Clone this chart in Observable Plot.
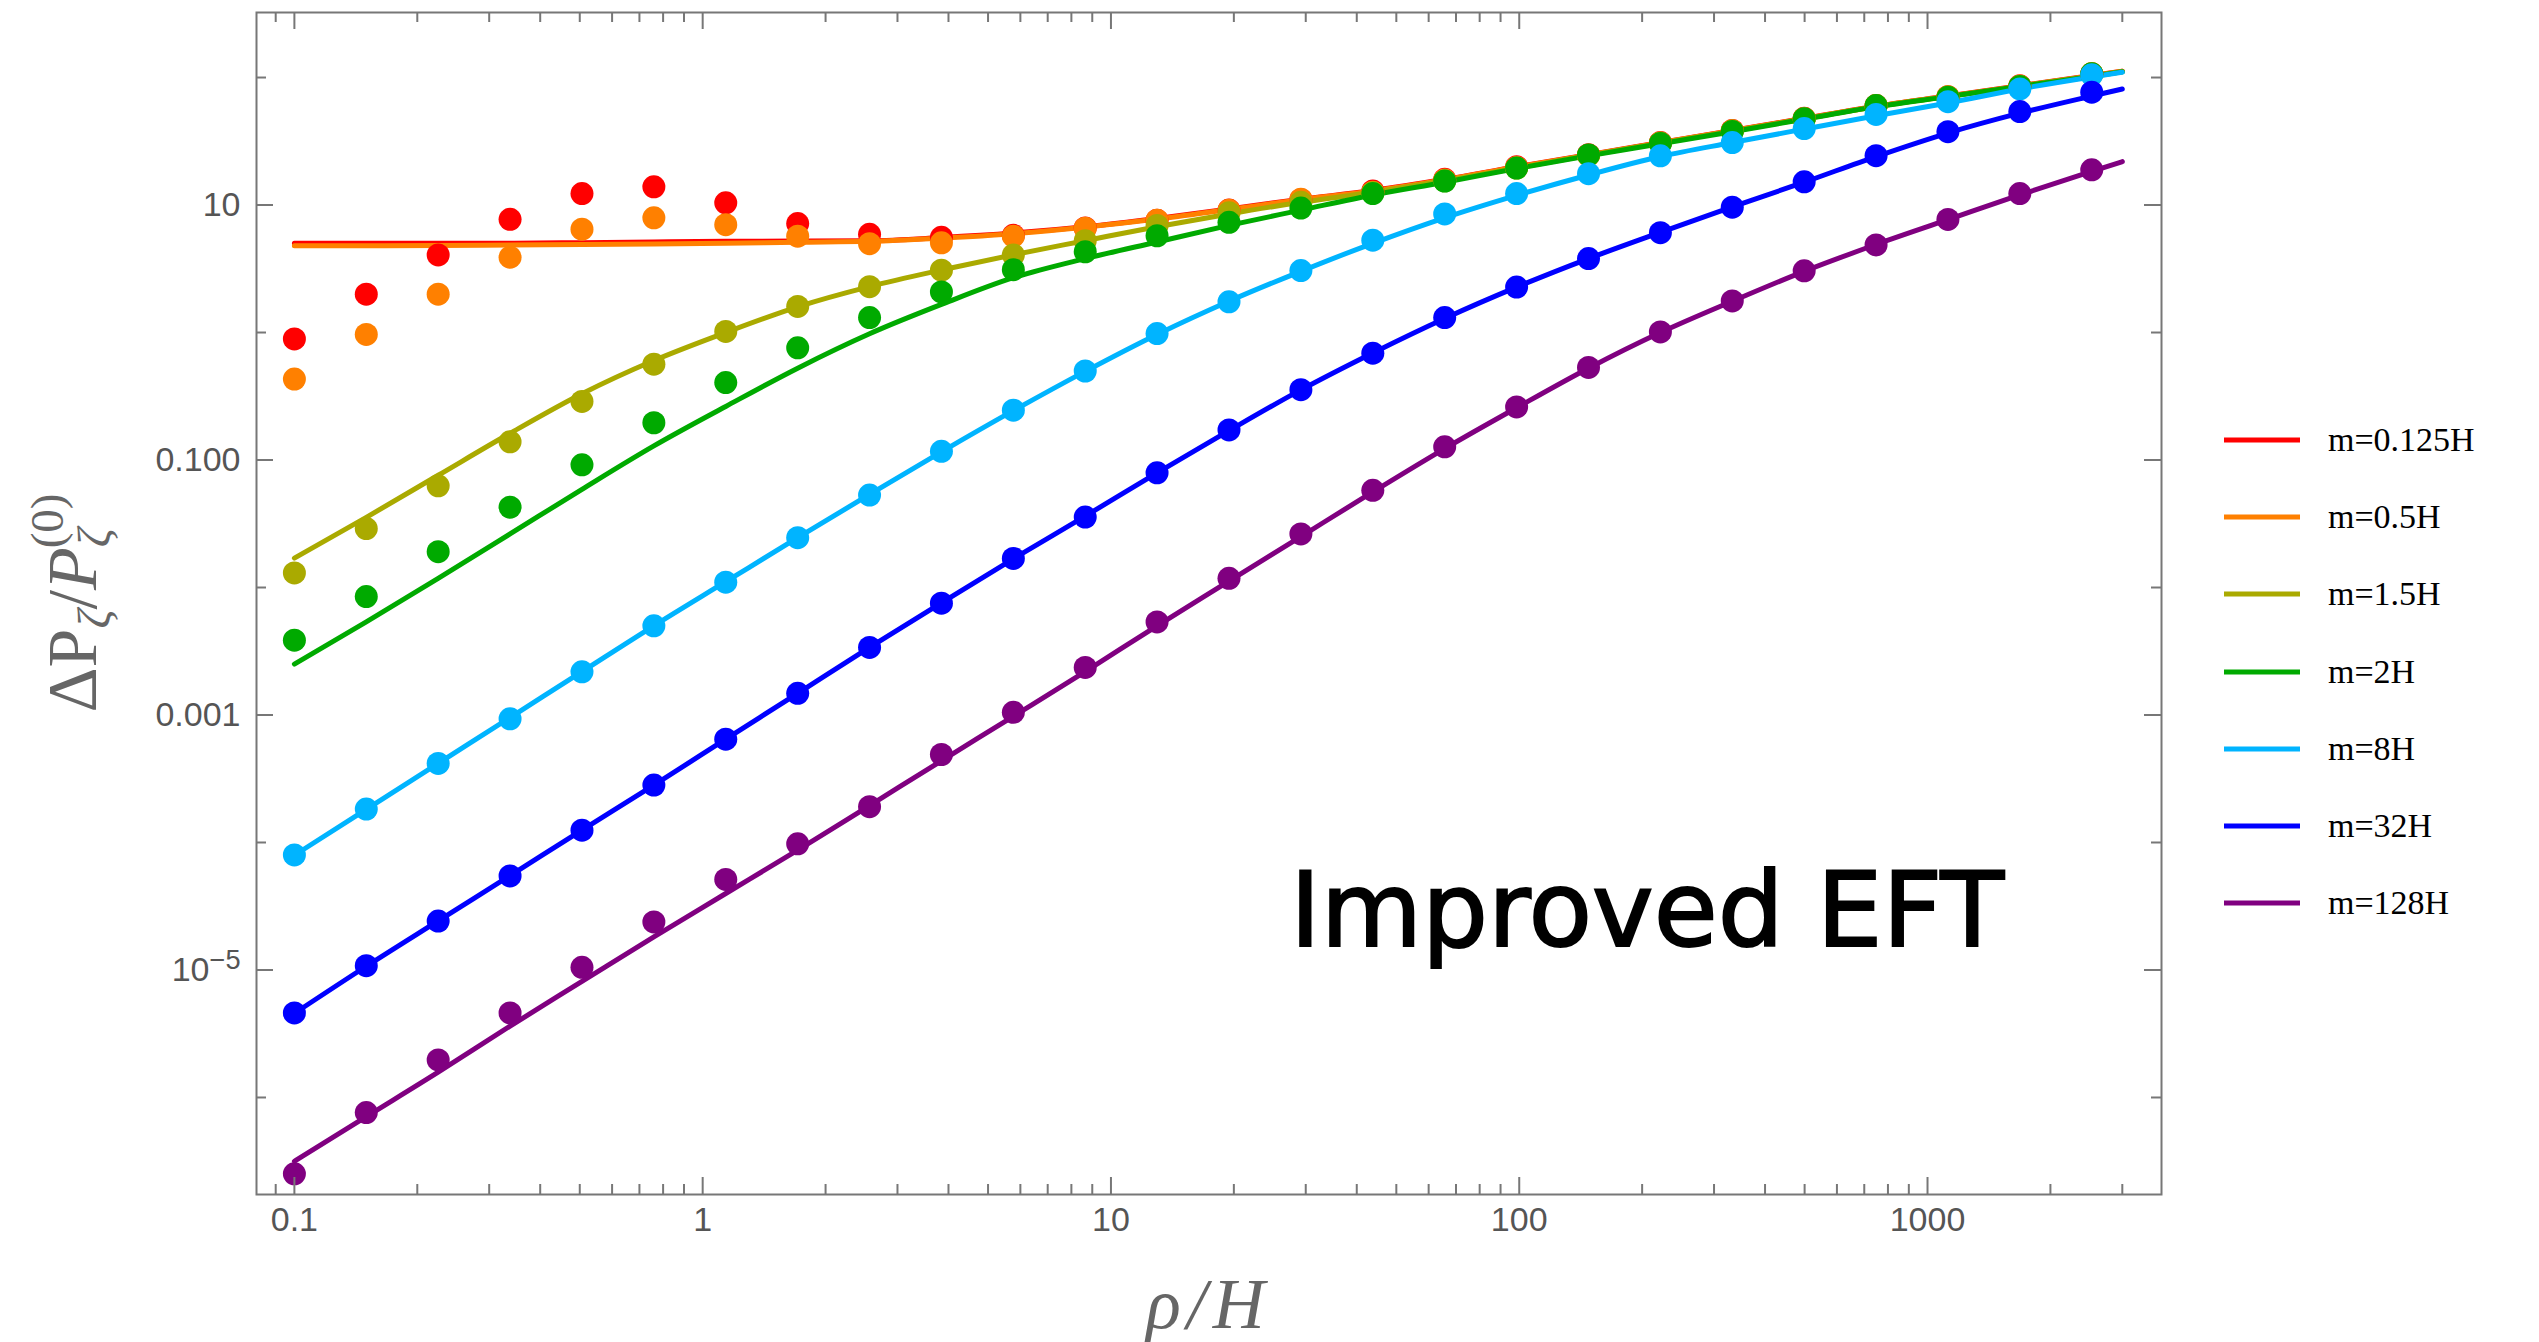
<!DOCTYPE html>
<html><head><meta charset="utf-8">
<script src="https://cdn.jsdelivr.net/npm/d3@7"></script>
<script src="https://cdn.jsdelivr.net/npm/@observablehq/plot@0.6"></script>
<style>
html,body{margin:0;padding:0;background:#fff;}
#wrap{position:relative;width:2539px;height:1342px;}
#legend{position:absolute;left:2224px;top:401px;font-family:"Liberation Serif","Times New Roman",serif;font-size:34px;color:#000;}
.row{display:flex;align-items:center;height:77.3px;}
.row svg{margin-right:28px;}
</style></head><body><div id="wrap"><div id="legend"></div></div>
<script>
// ---- data ----
const masses = ["m=0.125H","m=0.5H","m=1.5H","m=2H","m=8H","m=32H","m=128H"];
const colors = ["#ff0000","#ff8000","#aaaa00","#00aa00","#00b4ff","#0000ff","#800080"];

const rho = [0.1, 0.15, 0.225, 0.3375, 0.5063, 0.7594, 1.139, 1.709, 2.563, 3.844, 5.767, 8.650, 12.97, 19.46, 29.19, 43.79, 65.68, 98.53, 147.8, 221.7, 332.5, 498.8, 748.2, 1122, 1683, 2525];
const rhoLine = [0.1, 0.15, 0.225, 0.3375, 0.5063, 0.7594, 1.139, 1.709, 2.563, 3.844, 5.767, 8.650, 12.97, 19.46, 29.19, 43.79, 65.68, 98.53, 147.8, 221.7, 332.5, 498.8, 748.2, 1122, 1683, 2525, 3000];

// numerical points
const pts_0125 = [0.891, 2.00, 4.06, 7.73, 12.3, 13.9, 10.4, 7.16, 5.89, 5.58, 5.78, 6.61, 7.59, 9.12, 11.0, 12.9, 15.9, 20.0, 24.8, 30.9, 38.5, 47.9, 60.3, 70.8, 86.1, 107];
const pts_05   = [0.431, 0.966, 2.00, 3.90, 6.47, 7.93, 7.01, 5.69, 4.97, 5.05, 5.69, 6.58, 7.60, 9.08, 11.1, 12.6, 15.7, 19.7, 24.6, 30.7, 38.2, 47.6, 60.0, 70.8, 85.7, 107];
const pts_15   = [0.0130, 0.0290, 0.0628, 0.139, 0.288, 0.564, 1.02, 1.60, 2.29, 3.08, 4.06, 5.25, 6.92, 8.71, 10.5, 12.5, 15.5, 19.5, 24.6, 30.6, 38.0, 47.5, 60.3, 70.3, 85.1, 107];
const pts_2    = [0.00386, 0.00849, 0.0191, 0.0427, 0.0916, 0.196, 0.405, 0.759, 1.31, 2.08, 3.11, 4.30, 5.74, 7.31, 9.46, 12.3, 15.4, 19.5, 24.7, 30.4, 37.8, 47.4, 60.3, 70.0, 85.1, 107];
const pts_8    = [7.98e-5, 1.83e-4, 4.17e-4, 9.33e-4, 2.18e-3, 5.01e-3, 0.0110, 0.0246, 0.0531, 0.117, 0.246, 0.499, 0.982, 1.74, 3.06, 5.30, 8.51, 12.3, 17.6, 24.3, 30.9, 39.8, 51.3, 64.6, 81.3, 105];
const pts_32   = [4.60e-6, 1.08e-5, 2.42e-5, 5.47e-5, 1.25e-4, 2.82e-4, 6.46e-4, 1.48e-3, 3.39e-3, 7.53e-3, 0.0169, 0.0357, 0.0794, 0.172, 0.356, 0.689, 1.31, 2.27, 3.80, 6.07, 9.62, 15.2, 24.4, 37.6, 54.1, 76.7];
const pts_128  = [2.52e-7, 7.62e-7, 1.97e-6, 4.60e-6, 1.05e-5, 2.38e-5, 5.13e-5, 9.77e-5, 1.91e-4, 4.90e-4, 1.05e-3, 2.36e-3, 5.37e-3, 0.0118, 0.0263, 0.0579, 0.127, 0.261, 0.532, 1.01, 1.77, 3.05, 4.86, 7.71, 12.3, 18.9];

// EFT curves
const line_0125 = [5.01, 5.01, 5.01, 5.01, 5.07, 5.13, 5.19, 5.22, 5.25, 5.56, 6.03, 6.76, 7.85, 9.33, 11.1, 13.0, 15.9, 20.0, 24.8, 30.9, 38.5, 47.9, 59.6, 71.6, 86.1, 104, 112];
const line_05   = [4.79, 4.79, 4.82, 4.86, 4.90, 4.95, 5.01, 5.11, 5.19, 5.50, 5.96, 6.70, 7.76, 9.23, 11.0, 12.9, 15.8, 19.9, 24.7, 30.8, 38.3, 47.6, 59.3, 71.3, 85.7, 103, 112];
const line_15   = [0.0170, 0.0355, 0.0759, 0.162, 0.331, 0.603, 1.00, 1.59, 2.29, 3.09, 4.07, 5.25, 6.76, 8.51, 10.5, 12.6, 15.5, 19.5, 24.6, 30.6, 38.0, 47.5, 59.2, 71.1, 85.5, 103, 111];
const line_2    = [0.00251, 0.00537, 0.0118, 0.0263, 0.0589, 0.129, 0.263, 0.525, 0.977, 1.66, 2.69, 3.80, 5.13, 6.92, 9.12, 12.0, 15.1, 19.3, 24.3, 30.2, 37.6, 47.1, 58.9, 70.8, 85.1, 102, 111];
const line_8    = [7.94e-5, 1.82e-4, 4.17e-4, 9.55e-4, 2.19e-3, 5.01e-3, 0.0111, 0.0246, 0.0537, 0.116, 0.244, 0.496, 0.966, 1.76, 3.02, 5.01, 7.94, 11.9, 17.2, 24.0, 30.9, 39.4, 50.1, 63.1, 81.3, 101, 110];
const line_32   = [4.57e-6, 1.07e-5, 2.43e-5, 5.50e-5, 1.25e-4, 2.82e-4, 6.46e-4, 1.48e-3, 3.39e-3, 7.59e-3, 0.0168, 0.0363, 0.0794, 0.170, 0.355, 0.692, 1.29, 2.27, 3.80, 6.10, 9.66, 15.1, 24.0, 36.7, 52.5, 71.6, 81.3];
const line_128  = [3.16e-7, 7.08e-7, 1.58e-6, 3.63e-6, 8.13e-6, 1.82e-5, 3.98e-5, 8.71e-5, 1.95e-4, 4.37e-4, 9.77e-4, 2.19e-3, 5.01e-3, 0.0112, 0.0251, 0.0562, 0.123, 0.257, 0.525, 1.00, 1.76, 3.02, 4.90, 7.67, 12.0, 18.4, 21.9];

// axis ticks
const xTickValues = [0.1, 1, 10, 100, 1000];
const xTickLabels = ["0.1", "1", "10", "100", "1000"];
const xMinorTicks = [0.09, 0.2, 0.3, 0.4, 0.5, 0.6, 0.7, 0.8, 0.9, 2, 3, 4, 5, 6, 7, 8, 9, 20, 30, 40, 50, 60, 70, 80, 90, 200, 300, 400, 500, 600, 700, 800, 900, 2000, 3000];
const yTickValues = [10, 0.1, 0.001, 1e-5];
const yTickLabels = ["10", "0.100", "0.001", "10^-5"];
const yMinorTicks = [100, 1, 0.01, 1e-4, 1e-6];

// ---- build tables ----
const ptsSeries = [pts_0125, pts_05, pts_15, pts_2, pts_8, pts_32, pts_128];
const lineSeries = [line_0125, line_05, line_15, line_2, line_8, line_32, line_128];
const pointData = [], lineData = [];
masses.forEach((m, s) => {
  rho.forEach((x, i) => pointData.push({x, y: ptsSeries[s][i], series: m}));
  rhoLine.forEach((x, i) => lineData.push({x, y: lineSeries[s][i], series: m}));
});

// ---- layout ----
const W = 2539, H = 1342, mL = 256, mR = 378, mT = 12, mB = 148;
const fw = W - mL - mR, fh = H - mT - mB;
const majorLen = 17, minorLen = 10, axisGray = "#777";

const plot = Plot.plot({
  width: W, height: H,
  marginLeft: mL, marginRight: mR, marginTop: mT, marginBottom: mB,
  style: {fontFamily: "'Liberation Sans', Arial, sans-serif", fontSize: "34px", background: "white", overflow: "visible"},
  x: {type: "log", domain: [0.08076, 3742]},
  y: {type: "log", domain: [1.734e-7, 323.6]},
  color: {domain: masses, range: colors},
  marks: [
    Plot.line(lineData, {x: "x", y: "y", z: "series", stroke: "series", strokeWidth: 5, curve: "monotone-x"}),
    Plot.dot(pointData, {x: "x", y: "y", fill: "series", r: 11.5}),
    // inward ticks, bottom / top
    Plot.tickX(xTickValues, {insetTop: fh - majorLen, stroke: axisGray, strokeWidth: 2}),
    Plot.tickX(xMinorTicks, {insetTop: fh - minorLen, stroke: axisGray, strokeWidth: 2}),
    Plot.tickX(xTickValues, {insetBottom: fh - majorLen, stroke: axisGray, strokeWidth: 2}),
    Plot.tickX(xMinorTicks, {insetBottom: fh - minorLen, stroke: axisGray, strokeWidth: 2}),
    // inward ticks, left / right
    Plot.tickY(yTickValues, {insetRight: fw - majorLen, stroke: axisGray, strokeWidth: 2}),
    Plot.tickY(yMinorTicks, {insetRight: fw - minorLen, stroke: axisGray, strokeWidth: 2}),
    Plot.tickY(yTickValues, {insetLeft: fw - majorLen, stroke: axisGray, strokeWidth: 2}),
    Plot.tickY(yMinorTicks, {insetLeft: fw - minorLen, stroke: axisGray, strokeWidth: 2}),
    Plot.frame({stroke: axisGray, strokeWidth: 2}),
    Plot.axisX({ticks: xTickValues, tickFormat: d => xTickLabels[xTickValues.indexOf(d)], tickSize: 0, tickPadding: 12, label: null, fill: "#555"}),
    Plot.axisY({ticks: yTickValues, tickFormat: d => yTickLabels[yTickValues.indexOf(d)], tickSize: 0, tickPadding: 16, label: null, fill: "#555"})
  ]
});
document.getElementById("wrap").prepend(plot);

const svg = d3.select(plot);

// render "a^b" tick labels as a real superscript
svg.selectAll("text").each(function () {
  const t = d3.select(this);
  if (this.childElementCount === 0 && this.textContent.includes("^")) {
    const [base, exp] = this.textContent.split("^");
    t.text(null);
    t.append("tspan").text(base);
    t.append("tspan").attr("dy", "-0.45em").attr("font-size", "0.8em").text(exp.replace("-", "\u2212"));
  }
});

// ---- axis labels and annotation ----
svg.append("text")
  .attr("x", mL + fw / 2).attr("y", 1328)
  .attr("text-anchor", "middle")
  .attr("font-family", "'Liberation Serif', 'Times New Roman', serif")
  .attr("font-style", "italic").attr("font-size", 72).attr("fill", "#666")
  .attr("letter-spacing", 6)
  .text("ρ/H");

const yl = svg.append("text")
  .attr("transform", `translate(96, ${mT + fh / 2}) rotate(-90)`)
  .attr("text-anchor", "middle")
  .attr("font-family", "'Liberation Serif', 'Times New Roman', serif")
  .attr("font-size", 70).attr("fill", "#666");
yl.append("tspan").text("ΔP");
yl.append("tspan").attr("font-style", "italic").attr("font-size", 47).attr("dy", 14).text("ζ");
yl.append("tspan").attr("dy", -14).text("/");
yl.append("tspan").attr("font-style", "italic").text("P");
yl.append("tspan").attr("font-style", "italic").attr("font-size", 47).attr("dy", 14).text("ζ");
yl.append("tspan").attr("font-size", 47).attr("dx", -20).attr("dy", -47).text("(0)");

svg.append("text")
  .attr("x", 1290).attr("y", 946)
  .attr("text-anchor", "start")
  .attr("font-family", "'DejaVu Sans', sans-serif")
  .attr("font-size", 104).attr("fill", "#000")
  .attr("stroke", "#000").attr("stroke-width", 2)
  .text("Improved EFT");

// ---- legend ----
const legend = d3.select("#legend");
masses.forEach((m, i) => {
  const row = legend.append("div").attr("class", "row");
  const sw = row.append("svg").attr("width", 76).attr("height", 10);
  sw.append("line").attr("x1", 0).attr("x2", 76).attr("y1", 5).attr("y2", 5)
    .attr("stroke", colors[i]).attr("stroke-width", 5);
  row.append("span").text(m);
});
</script>
</body></html>
